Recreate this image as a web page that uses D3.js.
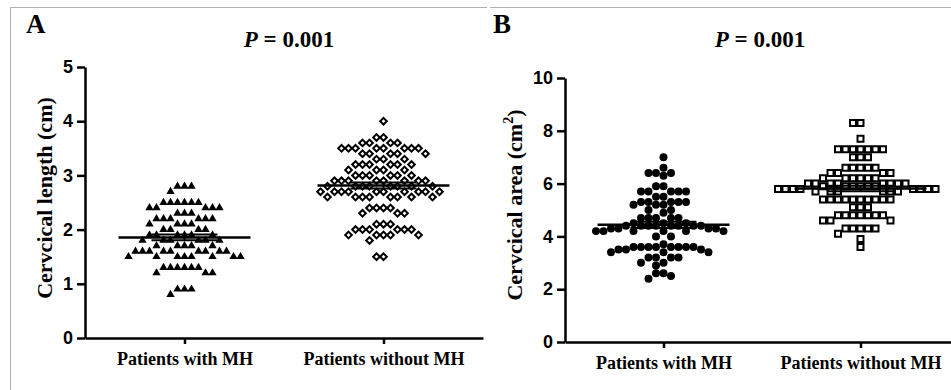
<!DOCTYPE html>
<html>
<head>
<meta charset="utf-8">
<script src="https://cdn.jsdelivr.net/npm/d3@7"></script>
<style>
  body { margin: 0; background: #fff; }
  svg { display: block; }
</style>
</head>
<body>
<svg id="chart" width="951" height="390"></svg>
<script>
// groups on the x axis
const groups = ['Patients with MH', 'Patients without MH']

// panel A: cervical length (cm)
const lengthWithMH = [
  2.8, 2.8, 2.8, 2.7, 2.5, 2.5, 2.5, 2.5, 2.5, 2.5, 2.4, 2.4, 2.4, 2.4, 2.4,
  2.3, 2.3, 2.3, 2.2, 2.2, 2.2, 2.2, 2.2, 2.2, 2.1, 2.1, 2.1, 2.1, 2.0, 2.0,
  2.0, 2.0, 1.9, 1.9, 1.9, 1.9, 1.9, 1.9, 1.8, 1.8, 1.8, 1.8, 1.8, 1.8, 1.7,
  1.7, 1.7, 1.7, 1.7, 1.6, 1.6, 1.6, 1.6, 1.6, 1.6, 1.6, 1.6, 1.6, 1.5, 1.5,
  1.5, 1.5, 1.5, 1.5, 1.5, 1.5, 1.3, 1.3, 1.3, 1.3, 1.3, 1.3, 1.2, 1.2, 1.2,
  0.9, 0.9, 0.9, 0.8
]
const lengthWithoutMH = [
  4.0, 3.7, 3.7, 3.6, 3.6, 3.6, 3.6, 3.5, 3.5, 3.5, 3.5, 3.5, 3.5, 3.5, 3.5,
  3.4, 3.4, 3.4, 3.4, 3.4, 3.3, 3.3, 3.3, 3.2, 3.2, 3.2, 3.2, 3.2, 3.2, 3.1,
  3.1, 3.1, 3.1, 3.0, 3.0, 3.0, 3.0, 3.0, 3.0, 2.9, 2.9, 2.9, 2.9, 2.9, 2.9,
  2.9, 2.9, 2.8, 2.8, 2.8, 2.8, 2.8, 2.8, 2.8, 2.8, 2.7, 2.7, 2.7, 2.7, 2.7,
  2.7, 2.7, 2.7, 2.7, 2.7, 2.6, 2.6, 2.6, 2.6, 2.6, 2.6, 2.6, 2.6, 2.4, 2.4,
  2.4, 2.4, 2.3, 2.3, 2.3, 2.1, 2.1, 2.1, 2.0, 2.0, 2.0, 2.0, 2.0, 2.0, 1.9,
  1.9, 1.9, 1.9, 1.9, 1.8, 1.5, 1.5
]

// panel B: cervical area (cm2)
const areaWithMH = [
  7.0, 6.6, 6.4, 6.4, 6.4, 6.3, 5.9, 5.9, 5.7, 5.7, 5.7, 5.7, 5.7, 5.5, 5.5,
  5.3, 5.3, 5.3, 5.3, 5.3, 5.2, 5.2, 5.2, 5.0, 5.0, 4.9, 4.7, 4.7, 4.7, 4.7,
  4.7, 4.5, 4.5, 4.5, 4.4, 4.4, 4.4, 4.4, 4.4, 4.4, 4.4, 4.4, 4.3, 4.3, 4.3,
  4.3, 4.2, 4.2, 4.2, 4.2, 4.2, 4.2, 4.0, 4.0, 3.7, 3.6, 3.6, 3.6, 3.6, 3.6,
  3.6, 3.6, 3.6, 3.5, 3.5, 3.5, 3.4, 3.4, 3.4, 3.2, 3.2, 3.2, 3.2, 3.0, 3.0,
  2.9, 2.6, 2.6, 2.5, 2.4
]
const areaWithoutMH = [
  8.3, 8.3, 7.7, 7.3, 7.3, 7.3, 7.3, 7.3, 7.3, 7.3, 7.0, 7.0, 7.0, 6.6, 6.6,
  6.6, 6.6, 6.6, 6.4, 6.4, 6.4, 6.4, 6.2, 6.2, 6.2, 6.2, 6.2, 6.2, 6.0, 6.0,
  6.0, 6.0, 6.0, 6.0, 6.0, 6.0, 5.9, 5.9, 5.9, 5.9, 5.9, 5.9, 5.8, 5.8, 5.8,
  5.8, 5.8, 5.8, 5.8, 5.8, 5.7, 5.7, 5.7, 5.7, 5.7, 5.7, 5.4, 5.4, 5.4, 5.4,
  5.4, 5.4, 5.4, 5.4, 5.4, 5.4, 5.1, 5.1, 5.1, 4.8, 4.8, 4.8, 4.8, 4.8, 4.8,
  4.8, 4.6, 4.6, 4.6, 4.3, 4.3, 4.3, 4.3, 4.3, 4.1, 3.9, 3.6
]

const lengthTicks = [0, 1, 2, 3, 4, 5]
const areaTicks = [0, 2, 4, 6, 8, 10]

const svg = d3.select('#chart')
const numFont = '"Liberation Sans", Arial, sans-serif'
const serif = '"Liberation Serif", "Times New Roman", serif'

// grey frame lines
svg.append('line').attr('x1', 10).attr('x2', 487).attr('y1', 7.5).attr('y2', 7.5).attr('stroke', '#b0b0b0')
svg.append('line').attr('x1', 10.5).attr('x2', 10.5).attr('y1', 7).attr('y2', 390).attr('stroke', '#b0b0b0')
svg.append('line').attr('x1', 490).attr('x2', 951).attr('y1', 7.5).attr('y2', 7.5).attr('stroke', '#b0b0b0')

// Prism-like spread: points whose y are closer than h share a row and are pushed sideways by w
function swarm (vals, y, cx, w, h) {
  const pts = vals.map(v => ({ v, y: y(v), x: 0 })).sort((a, b) => a.y - b.y)
  const placed = []
  pts.forEach(p => {
    const near = placed.filter(q => Math.abs(q.y - p.y) < h)
    const cands = [0]
    near.forEach(q => cands.push(q.x + w, q.x - w))
    cands.sort((a, b) => Math.abs(a) - Math.abs(b) || a - b)
    p.x = cands.find(c => near.every(q => Math.abs(q.x - c) >= w - 0.01))
    placed.push(p)
  })
  pts.forEach(p => { p.x += cx })
  return pts
}

function panel (opt) {
  const g = svg.append('g')
  const x = d3.scalePoint().domain(groups).range(opt.xRange).padding(0.5)
  const y = d3.scaleLinear().domain(opt.yDomain).range(opt.yRange)

  // panel letter + title
  g.append('text').attr('x', opt.letterX).attr('y', 33)
    .attr('font-family', serif).attr('font-weight', 'bold').attr('font-size', 27)
    .text(opt.letter)
  const t = g.append('text').attr('x', opt.titleX).attr('y', 47).attr('text-anchor', 'middle')
    .attr('font-family', serif).attr('font-weight', 'bold').attr('font-size', 23)
  t.append('tspan').attr('font-style', 'italic').text('P')
  t.append('tspan').text(' = 0.001')

  // y axis
  const ya = g.append('g').attr('transform', `translate(${opt.xRange[0]},0)`)
    .call(d3.axisLeft(y).tickValues(opt.ticks).tickFormat(d3.format('d')).tickSize(8).tickSizeOuter(0).tickPadding(4))
  ya.selectAll('path,line').attr('stroke', '#000').attr('stroke-width', 2.5)
  ya.selectAll('text').attr('font-family', numFont).attr('font-weight', 'bold').attr('font-size', 18).attr('fill', '#000')

  // x axis
  const xa = g.append('g').attr('transform', `translate(0,${opt.yRange[0]})`)
    .call(d3.axisBottom(x).tickSize(6).tickSizeOuter(0).tickPadding(8))
  xa.selectAll('path,line').attr('stroke', '#000').attr('stroke-width', 2.5)
  xa.selectAll('text').attr('font-family', serif).attr('font-weight', 'bold').attr('font-size', 18).attr('fill', '#000')

  // y title
  const yt = g.append('text')
    .attr('transform', `translate(${opt.yTitleX},${opt.yTitleY}) rotate(-90)`)
    .attr('text-anchor', 'middle')
    .attr('font-family', serif).attr('font-weight', 'bold').attr('font-size', 22)
  yt.append('tspan').text(opt.yTitle)
  if (opt.sup) {
    yt.append('tspan').attr('font-size', 14).attr('dy', -9).text(opt.sup)
    yt.append('tspan').attr('dy', 9).text(')')
  }

  // points
  opt.series.forEach((s, i) => {
    const pts = swarm(s.values, y, x(groups[i]), opt.w, opt.h)
    g.append('g').selectAll('path').data(pts).join('path')
      .attr('transform', d => `translate(${d.x},${d.y})` + (s.rotate ? ' rotate(45)' : ''))
      .attr('d', d3.symbol().type(s.symbol).size(s.size))
      .attr('fill', s.fill)
      .attr('stroke', s.stroke)
      .attr('stroke-width', s.strokeWidth)

    // mean with SEM
    const m = d3.mean(s.values)
    const sem = d3.deviation(s.values) / Math.sqrt(s.values.length)
    const cx = x(groups[i])
    const lg = g.append('g').attr('stroke', '#000')
    lg.append('line').attr('x1', cx - 66).attr('x2', cx + 66).attr('y1', y(m)).attr('y2', y(m)).attr('stroke-width', 2.5)
    lg.append('line').attr('x1', cx).attr('x2', cx).attr('y1', y(m - sem)).attr('y2', y(m + sem)).attr('stroke-width', 2)
    ;[m - sem, m + sem].forEach(v => {
      lg.append('line').attr('x1', cx - 33).attr('x2', cx + 33).attr('y1', y(v)).attr('y2', y(v)).attr('stroke-width', 2)
    })
  })
}

panel({
  letter: 'A', letterX: 26, titleX: 289,
  xRange: [85, 483], yDomain: [0, 5], yRange: [338, 67], ticks: lengthTicks,
  yTitle: 'Cervcical length (cm)', yTitleX: 52, yTitleY: 198,
  w: 7, h: 6.5,
  series: [
    { values: lengthWithMH, symbol: d3.symbolTriangle, size: 30, fill: '#000', stroke: 'none', strokeWidth: 0 },
    { values: lengthWithoutMH, symbol: d3.symbolSquare, size: 22, rotate: true, fill: '#fff', stroke: '#000', strokeWidth: 2 }
  ]
})

panel({
  letter: 'B', letterX: 493, titleX: 760,
  xRange: [565, 959], yDomain: [0, 10], yRange: [342, 78], ticks: areaTicks,
  yTitle: 'Cervcical area (cm', sup: '2', yTitleX: 522, yTitleY: 205,
  w: 7.5, h: 5.5,
  series: [
    { values: areaWithMH, symbol: d3.symbolCircle, size: 50, fill: '#000', stroke: 'none', strokeWidth: 0 },
    { values: areaWithoutMH, symbol: d3.symbolSquare, size: 36, fill: '#fff', stroke: '#000', strokeWidth: 2 }
  ]
})
</script>
</body>
</html>
